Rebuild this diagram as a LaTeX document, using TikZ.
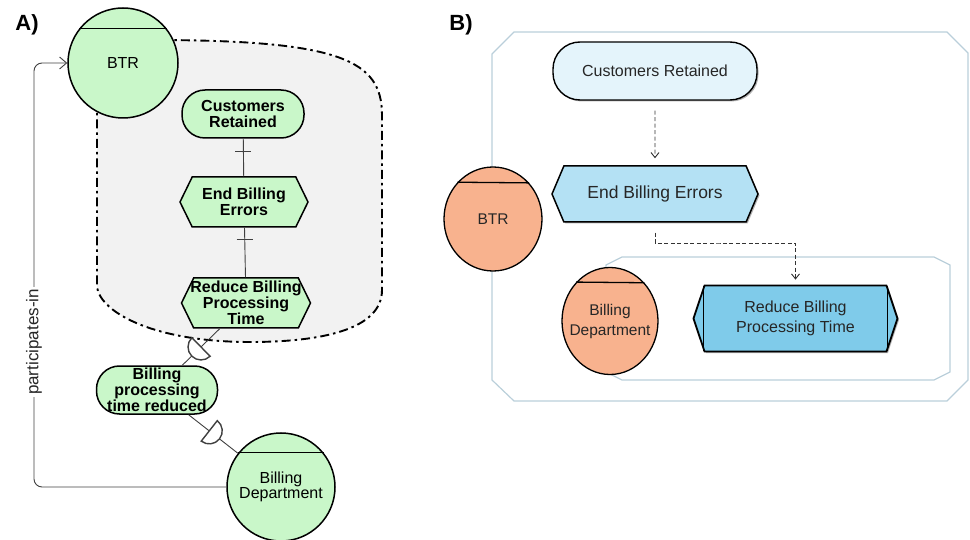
\documentclass[tikz,border=0pt]{standalone}
\usepackage{fontspec}
\setmainfont{Liberation Sans}
\usetikzlibrary{shapes.symbols,shapes.geometric,arrows.meta,shadows,decorations.markings,calc}
\definecolor{goalgreen}{HTML}{C9F7C9}
\definecolor{regiongray}{HTML}{F2F2F2}
\definecolor{actorsalmon}{HTML}{F8B28E}
\definecolor{outcomeblue}{HTML}{E4F4FB}
\definecolor{goalblue}{HTML}{B4E1F4}
\definecolor{taskblue}{HTML}{7FCBEA}
\definecolor{frameblue}{HTML}{BACFDA}
\newcommand{\fsz}[2]{\fontsize{#1}{#2}\selectfont}
\begin{document}
\begin{tikzpicture}[x=1pt,y=-1pt,
  greenbox/.style={draw,line width=1.5pt,fill=goalgreen,inner sep=0pt,align=center,font=\fsz{16}{16}\bfseries},
  greenpill/.style={greenbox,rectangle,rounded corners=23pt,minimum width=#1,minimum height=48pt},
  greenhex/.style={greenbox,signal,signal to=east and west,signal pointer angle=128,inner xsep=-8pt,minimum width=#1,minimum height=50pt},
  actorA/.style={draw,line width=1.5pt,fill=goalgreen,circle,inner sep=0pt,minimum size=#1,align=center,font=\fsz{16}{15}},
  linkA/.style={draw=black!75,line width=0.9pt},
  dmark/.style={postaction={decorate,decoration={markings,mark=at position #1 with {\draw[line width=1.4pt,fill=white] (0pt,-13pt) arc[start angle=-90,end angle=90,radius=13pt] -- cycle;}}}},
  plabel/.style={rotate=90,fill=white,inner sep=2pt,font=\fsz{17}{17},text=black!85},
  frameB/.style={draw=frameblue,line width=1.2pt},
  bshadow/.style={drop shadow={shadow xshift=1.5pt,shadow yshift=-1.5pt,fill=black,opacity=.3}},
  actorB/.style={draw,line width=1.3pt,fill=actorsalmon,ellipse,inner sep=0pt,align=center,font=\fsz{15.5}{20},text=black!85},
  pillB/.style={draw,line width=1.4pt,fill=outcomeblue,rectangle,rounded corners=27pt,minimum width=204pt,minimum height=58pt,font=\fsz{16}{20},text=black!85,bshadow},
  hexB/.style={draw,line width=1.5pt,signal,signal to=east and west,align=center,inner sep=0pt,text=black!85,bshadow},
  flowB/.style={draw=black!80,line width=0.9pt,dash pattern=on 4pt off 2.5pt,-{Straight Barb[length=5pt,width=8pt]}}
]
\useasboundingbox (0,0) rectangle (970,540);
\node[font=\fsz{22}{22}\bfseries] (labA) at (27,25) {A)};
\node[font=\fsz{22}{22}\bfseries] (labB) at (461,25) {B)};
\draw[line width=1.9pt,fill=regiongray,dash pattern=on 9pt off 4pt on 2.5pt off 4pt] (97,100) -- (97,285) .. controls (97,310) and (150,342) .. (250,342) .. controls (320,342) and (382,330) .. (382,290) -- (382,115) .. controls (382,60) and (340,40) .. (150,40) -- cycle;
\node[actorA=110pt] (btrA) at (123,63) {BTR};
\draw[line width=1.5pt] (btrA.38) -- (btrA.142);
\node[greenpill=122pt] (custA) at (243,114) {Customers\\Retained};
\node[greenhex=128pt] (endA) at (244,202) {End Billing\\Errors};
\node[greenhex=129pt] (reduceA) at (246,303) {Reduce Billing\\Processing\\Time};
\node[greenpill=121pt] (billPA) at (157,390) {Billing\\processing\\time reduced};
\node[actorA=108pt] (billA) at (281,487) {Billing\\Department};
\draw[line width=1.5pt] (billA.39) -- (billA.141);
\draw[linkA] (custA) -- (endA) coordinate[pos=.33] (tick1);
\draw[linkA] ([xshift=-8pt]tick1) -- ([xshift=8pt]tick1);
\draw[linkA] (endA) -- (reduceA) coordinate[pos=.24] (tick2);
\draw[linkA] ([xshift=-8pt]tick2) -- ([xshift=8pt]tick2);
\draw[linkA,dmark=.5] (reduceA) -- (billPA);
\draw[linkA,dmark=.42] (billPA) -- (billA);
\coordinate (pcol) at (34,342);
\draw[linkA,rounded corners=8pt,-{Straight Barb[length=7pt,width=12pt]}] (billA.west) -| (pcol) node[plabel]{participates-in} |- (btrA.west);
\draw[frameB] (492,54) -- (514,32) -- (947,32) -- (968,53) -- (968,380) -- (947,401) -- (514,401) -- (492,380) -- cycle;
\draw[frameB] (606,265) -- (622,257) -- (934,257) -- (950,265) -- (950,372) -- (934,380) -- (622,380) -- (606,372) -- cycle;
\node[pillB] (custB) at (655,71) {Customers Retained};
\node[hexB,fill=goalblue,signal pointer angle=134,minimum width=206pt,minimum height=56pt,font=\fsz{17.5}{20}] (endB) at (655,194) {End Billing Errors};
\node[hexB,fill=taskblue,signal pointer angle=143,minimum width=204pt,minimum height=66pt,line width=1.8pt,font=\fsz{16}{20.5}] (reduceB) at (795.5,318.5) {Reduce Billing\\Processing Time};
\draw[line width=1.8pt] ($(reduceB.west)+(11,-32)$) -- ($(reduceB.west)+(11,32)$);
\draw[line width=1.8pt] ($(reduceB.east)+(-11,-32)$) -- ($(reduceB.east)+(-11,32)$);
\node[actorB,minimum width=98pt,minimum height=104pt] (btrB) at (493,219) {BTR};
\draw[line width=1.3pt] (btrB.45.5) -- (btrB.134.5);
\node[actorB,inner xsep=-12pt,minimum width=96pt,minimum height=107pt] (billB) at (610,321) {Billing\\Department};
\draw[line width=1.3pt] (billB.48.3) -- (billB.131.7);
\coordinate (bend) at (720,243);
\draw[flowB,shorten <=10pt,shorten >=7pt] (custB) -- (endB);
\draw[flowB,shorten <=10pt,shorten >=5pt] (endB.south) |- (bend) -| (reduceB.north);
\end{tikzpicture}
\end{document}
